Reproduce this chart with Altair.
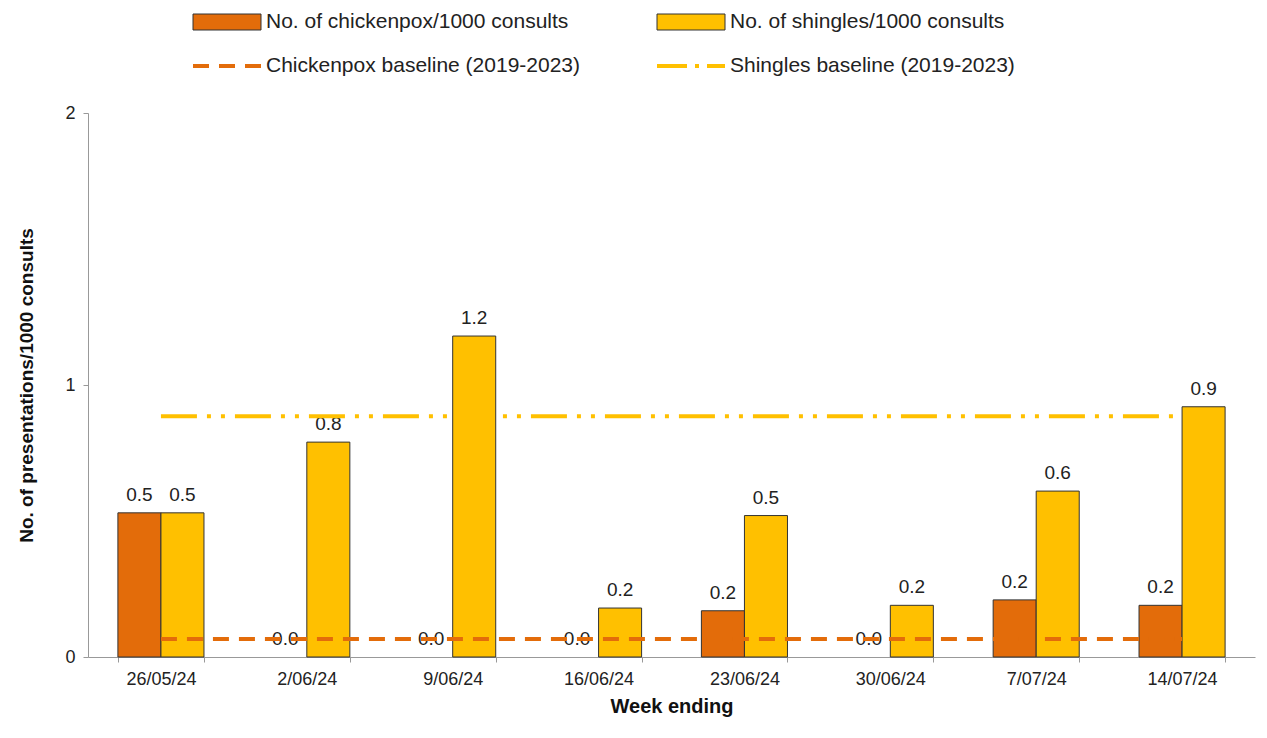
import altair as alt
import pandas as pd

weeks = ["26/05/24", "2/06/24", "9/06/24", "16/06/24", "23/06/24", "30/06/24", "7/07/24", "14/07/24"]
chickenpox = [0.53, 0.0, 0.0, 0.0, 0.17, 0.0, 0.21, 0.19]
shingles = [0.53, 0.79, 1.18, 0.18, 0.52, 0.19, 0.61, 0.92]
chickenpox_baseline = 0.066
shingles_baseline = 0.885
y_ticks = [0, 1, 2]

CP = "#E36C0A"
SH = "#FFC000"
FONT = "Liberation Sans"

bars = pd.DataFrame(
    [{"week": w, "series": "cp", "value": v} for w, v in zip(weeks, chickenpox)]
    + [{"week": w, "series": "sh", "value": v} for w, v in zip(weeks, shingles)]
)
cp_base = pd.DataFrame({"week": weeks, "value": [chickenpox_baseline] * len(weeks)})
sh_base = pd.DataFrame({"week": weeks, "value": [shingles_baseline] * len(weeks)})

x = alt.X("week:N", sort=weeks, title="Week ending",
          scale=alt.Scale(paddingInner=0.41, paddingOuter=0.205),
          axis=alt.Axis(labelAngle=0, tickBand="extent", labelFontSize=18,
                        titleFontSize=20, titleFontWeight="bold", labelPadding=8,
                        domainColor="#999", tickColor="#999", titlePadding=8,
                        labelColor="#222", titleColor="#111"))
y = alt.Y("value:Q", title="No. of presentations/1000 consults",
          scale=alt.Scale(domain=[0, 2], nice=False),
          axis=alt.Axis(values=y_ticks, labelExpr="format(datum.value, 'd')", grid=False,
                        labelFontSize=18, labelOverlap=False, labelFlush=False,
                        titleFontSize=19, titleFontWeight="bold",
                        domainColor="#999", tickColor="#999", titlePadding=28,
                        labelPadding=8, labelColor="#222", titleColor="#111"))

base = alt.Chart(bars).encode(x=x, y=y, xOffset=alt.XOffset("series:N", sort=["cp", "sh"]))
bar = base.mark_bar(stroke="#333", strokeWidth=1).encode(
    color=alt.Color("series:N", scale=alt.Scale(domain=["cp", "sh"], range=[CP, SH]), legend=None),
    strokeOpacity=alt.condition("datum.value > 0", alt.value(1), alt.value(0)),
)
labels = base.mark_text(dy=-18, fontSize=19, font=FONT, color="#222").encode(
    text=alt.Text("value:Q", format=".1f")
)

cp_line = alt.Chart(cp_base).mark_line(color=CP, strokeWidth=4, strokeDash=[16, 10]).encode(x=x, y=y)
sh_line = alt.Chart(sh_base).mark_line(
    color=SH, strokeWidth=4, strokeDash=[36, 10, 4, 10, 4, 10]).encode(x=x, y=y)

# legend
leg = []
items = [
    (105, -91, "rect", CP, "No. of chickenpox/1000 consults"),
    (569, -91, "rect", SH, "No. of shingles/1000 consults"),
    (105, -47, "dash", CP, "Chickenpox baseline (2019-2023)"),
    (569, -47, "dashdot", SH, "Shingles baseline (2019-2023)"),
]
one = pd.DataFrame({"a": [0]})
for lx, ly, kind, col, txt in items:
    if kind == "rect":
        leg.append(alt.Chart(one).mark_rect(color=col, stroke="#333").encode(
            x=alt.value(lx), x2=alt.value(lx + 68), y=alt.value(ly - 8), y2=alt.value(ly + 8)))
    else:
        dash = [16, 10] if kind == "dash" else [30, 8, 4, 8]
        leg.append(alt.Chart(one).mark_rule(color=col, strokeWidth=4, strokeDash=dash).encode(
            x=alt.value(lx), x2=alt.value(lx + 68), y=alt.value(ly), y2=alt.value(ly)))
    leg.append(alt.Chart(one).mark_text(align="left", fontSize=21, font=FONT, color="#222").encode(
        x=alt.value(lx + 73), y=alt.value(ly), text=alt.value(txt)))

chart = alt.layer(bar, labels, sh_line, cp_line, *leg).properties(
    width=1167, height=544,
    autosize=alt.AutoSizeParams(type="none"),
    padding={"left": 80, "top": 105, "right": 4, "bottom": 70},
).configure(font=FONT).configure_view(stroke=None)

chart.save("out.html", embed_options={"renderer": "svg", "actions": False})
